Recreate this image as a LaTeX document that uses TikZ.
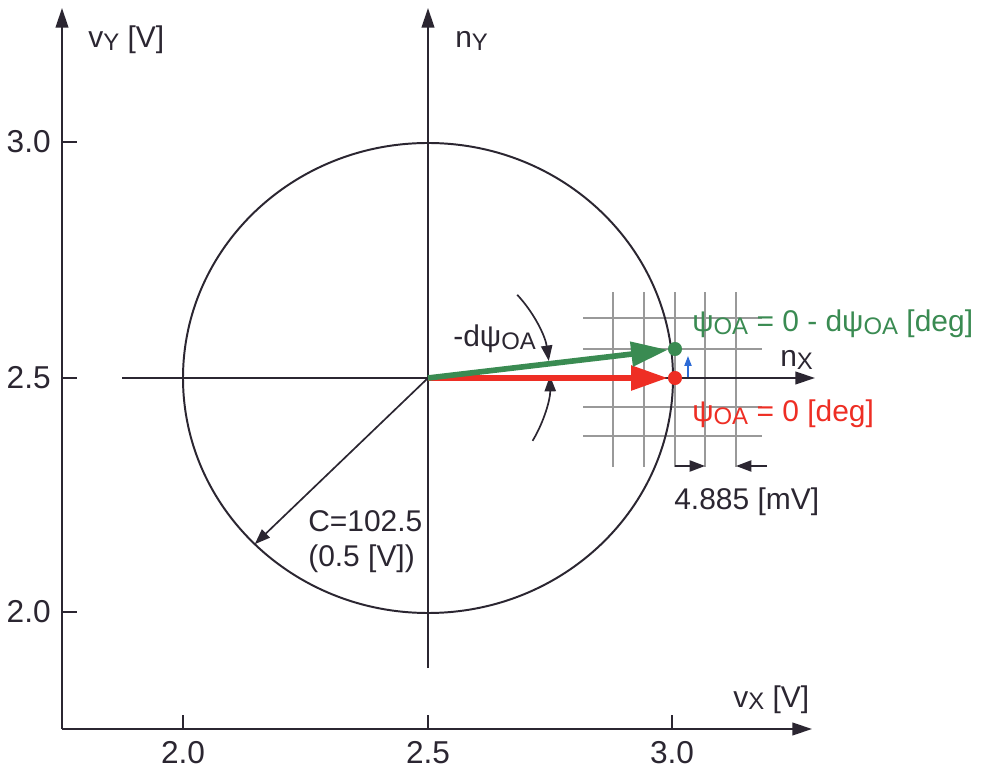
\documentclass[tikz,border=0pt]{standalone}
\usepackage{fontspec}
\setmainfont{Liberation Sans}
\usepackage{xcolor}
\usepackage{tikz}
\usetikzlibrary{calc,arrows.meta,positioning}
\definecolor{inkx}{HTML}{2B2631}
\definecolor{redv}{HTML}{EE2E24}
\definecolor{greenv}{HTML}{3A8B52}
\definecolor{bluev}{HTML}{2D6BD6}
\definecolor{gridx}{HTML}{999999}
\newcommand{\lo}[1]{\raisebox{-0.15ex}{\fontsize{17}{17}\selectfont #1}}
\tikzset{
  axis/.style={-{Triangle[length=14pt,width=9pt]},line width=1.4pt,inkx},
  vec/.style={-{Triangle[length=26pt,width=17pt]},line width=4pt},
  ar/.style={-{Triangle[length=11pt,width=8pt]},line width=1.2pt,inkx},
  lbl/.style={font=\fontsize{21.3}{27}\selectfont,inner sep=0pt,anchor=base west,text=inkx},
  ticklbl/.style={font=\fontsize{22.5}{27}\selectfont,inner sep=0pt,text=inkx},
  dot/.style={circle,inner sep=0pt,minimum size=10pt}
}
\begin{document}
\begin{tikzpicture}[x=0.025cm,y=0.025cm]
\useasboundingbox[fill=white] (0,0) rectangle (986,770);
\def\Rx{245}
\def\Ry{235}
\def\Ra{122}
\coordinate (o) at (428,392);
\coordinate (corner) at (62,41);
\coordinate (vytop) at (62,762);
\coordinate (vxend) at (812,41);
\coordinate (nybot) at (428,102);
\coordinate (nytop) at (428,762);
\coordinate (nxbeg) at (122,392);
\coordinate (nxend) at (815,392);
\foreach \gx in {613,644,675,705,736}
  \draw[gridx,line width=0.8pt] (\gx,303) -- (\gx,478);
\foreach \gy in {334,363,421,452}
  \draw[gridx,line width=0.8pt] (583,\gy) -- (762,\gy);
\draw[axis] (corner) -- (vytop);
\draw[axis] (corner) -- (vxend);
\draw[axis] (nybot) -- (nytop);
\draw[axis] (nxbeg) -- (nxend);
\foreach \ty/\tl in {628/3.0,392/2.5,158/2.0}{
  \draw[inkx,line width=1.4pt] (62,\ty) -- (77,\ty);
  \node[ticklbl,anchor=east] (yt\ty) at (51,\ty) {\tl};
}
\foreach \tx/\tl in {183/2.0,428/2.5,672/3.0}{
  \draw[inkx,line width=1.4pt] (\tx,41) -- (\tx,55);
  \node[ticklbl] (xt\tx) at (\tx,17) {\tl};
}
\draw[inkx,line width=1.4pt] (o) ellipse [x radius=\Rx, y radius=\Ry];
\coordinate (cpt) at ($(o)+(225:{\Rx} and {\Ry})$);
\draw[ar] (o) -- (cpt);
\draw[ar] ($(o)+(43:\Ra)$) arc[start angle=43,end angle=8,radius=\Ra];
\draw[ar] ($(o)+(-31:\Ra)$) arc[start angle=-31,end angle=1,radius=\Ra];
\node[dot,fill=redv] (rdot) at (675,392) {};
\node[dot,fill=greenv] (gdot) at (675,421) {};
\draw[vec,redv] (o) -- (rdot);
\draw[vec,greenv] (o) -- (gdot);
\coordinate (bbot) at (688,393);
\coordinate (btop) at (688,414);
\draw[-{Triangle[length=7pt,width=5pt]},bluev,line width=1.2pt] (bbot) -- (btop);
\coordinate (dl0) at (675,304);
\coordinate (dl1) at (705,304);
\coordinate (dr0) at (767,304);
\coordinate (dr1) at (736,304);
\draw[ar] (dl0) -- (dl1);
\draw[ar] (dr0) -- (dr1);
\node[lbl] (vy) at (88,722) {v\lo{Y} [V]};
\node[lbl] (ny) at (455,722) {n\lo{Y}};
\node[lbl] (vx) at (733,63) {v\lo{X} [V]};
\node[lbl] (nx) at (780,403) {n\lo{X}};
\node[lbl,text=greenv] (glbl) at (692,438) {ψ\lo{OA} = 0 - dψ\lo{OA} [deg]};
\node[lbl,text=redv] (rlbl) at (692,348) {ψ\lo{OA} = 0 [deg]};
\node[lbl] (dpsi) at (453,423) {-dψ\lo{OA}};
\node[lbl] (mv) at (674,260) {4.885 [mV]};
\node[lbl] (cval) at (308,238) {C=102.5};
\node[lbl] (cvolt) at (308,203) {(0.5 [V])};
\end{tikzpicture}
\end{document}
